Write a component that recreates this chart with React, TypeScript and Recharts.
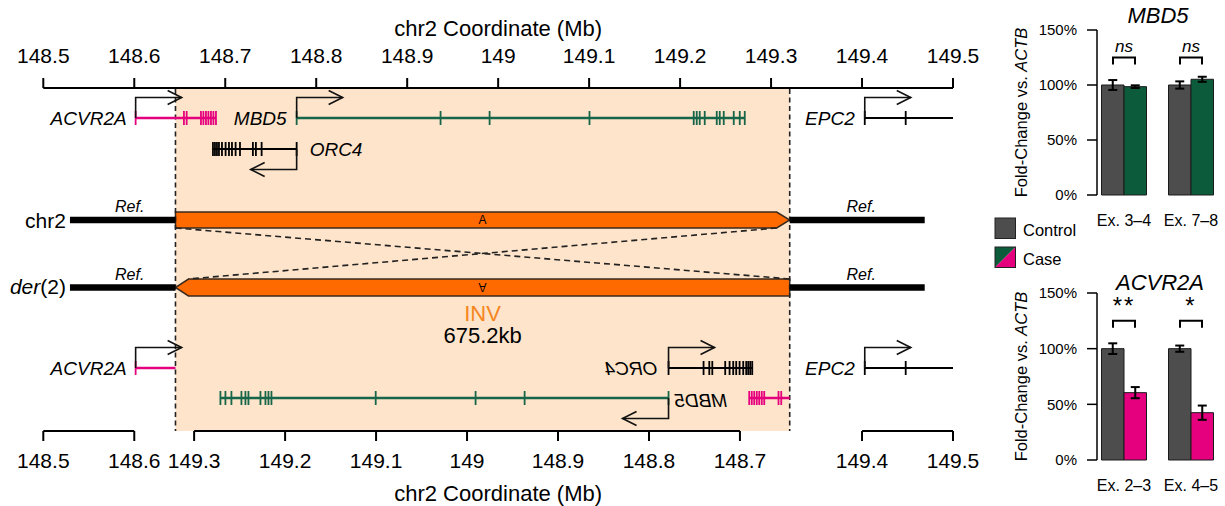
import React from "react";
import {
  ComposedChart,
  XAxis,
  YAxis,
  Scatter,
  ReferenceLine,
  ReferenceArea,
  ReferenceDot,
  BarChart,
  Bar,
  ErrorBar,
} from "recharts";

const FONT = "'Liberation Sans', Arial, Helvetica, sans-serif";
const MAGENTA = "#e5007e";
const GREEN = "#17664a";
const GREEN_BAR = "#0c5c3c";
const GRAY = "#4d4d4d";
const ORANGE = "#ff6a00";
const SHADE = "#fde4ca";

// chr2 inversion breakpoints (Mb)
const invStart = 148.6453;
const invEnd = 149.3205;
const chrShown = [148.5293, 149.4689];

const topTicks = [148.5, 148.6, 148.7, 148.8, 148.9, 149.0, 149.1, 149.2, 149.3, 149.4, 149.5];
const bottomTickLabels = [148.5, 148.6, 149.3, 149.2, 149.1, 149.0, 148.9, 148.8, 148.7, 149.4, 149.5];
const bottomAxisRuns = [
  [148.5, 148.6],
  [149.3, 148.7],
  [149.4, 149.5],
];

// genes on the reference chr2
const acvr2aSpan = [148.6015, 148.6898];
const acvr2aExons = [148.6015, 148.6546, 148.6576, 148.6733, 148.676, 148.6788, 148.6815, 148.6843, 148.687, 148.6898];
const mbd5Span = [148.7785, 149.2711];
const mbd5Exons = [148.7785, 148.9367, 148.9906, 149.1004, 149.215, 149.2183, 149.2216, 149.2271, 149.2403, 149.2436, 149.248, 149.259, 149.2656, 149.2711];
const orc4Span = [148.6865, 148.7785];
const orc4Exons = [148.6865, 148.6887, 148.6909, 148.6931, 148.6964, 148.7004, 148.7041, 148.7074, 148.7114, 148.7162, 148.7304, 148.7337, 148.74, 148.7785];
const epc2Span = [149.403, 149.5];
const epc2Exons = [149.403, 149.448];

// qPCR expression (% of control, vs ACTB)
const mbd5Amplicons = ["Ex. 3–4", "Ex. 7–8"];
const mbd5Control = [100, 100];
const mbd5ControlErr = [4.5, 3.3];
const mbd5Case = [98.5, 105.2];
const mbd5CaseErr = [1.2, 2.3];
const mbd5Sig = ["ns", "ns"];

const acvr2aAmplicons = ["Ex. 2–3", "Ex. 4–5"];
const acvr2aControl = [100, 100];
const acvr2aControlErr = [4.8, 2.8];
const acvr2aCase = [60.5, 42.5];
const acvr2aCaseErr = [5, 6.4];
const acvr2aSig = ["**", "*"];

// position on der(2): the inverted segment is mirrored
const derPos = (p: number) => (p > invStart && p < invEnd ? invStart + invEnd - p : p);
const fmt = (v: number) => String(Math.round(v * 10) / 10);

// track rows (px)
const ROW = { gene: 118, gene2: 149, chr: 220, der: 287.5, derGene: 368, derGene2: 398 };

const AX = { xAxisId: "mb", yAxisId: "row" } as const;

const seg = (key: string, x1: number, x2: number, y1: number, y2: number, stroke: string, w: number, dash?: string) => (
  <ReferenceLine
    key={key}
    {...AX}
    segment={[{ x: x1, y: y1 }, { x: x2, y: y2 }]}
    stroke={stroke}
    strokeWidth={w}
    strokeDasharray={dash}
    ifOverflow="visible"
  />
);

const exonTick = (color: string) => (p: any) => (
  <line x1={p.cx} x2={p.cx} y1={p.cy - 7} y2={p.cy + 7} stroke={color} strokeWidth={1.8} />
);

const exons = (key: string, xs: number[], y: number, color: string) => (
  <Scatter
    key={key}
    {...AX}
    data={xs.map((x) => ({ x, y }))}
    shape={exonTick(color)}
    isAnimationActive={false}
  />
);

const bentArrow = (dir: number) => (p: any) => {
  const { cx, cy } = p;
  const yb = cy - dir * 20.5;
  const xe = cx + dir * 46;
  return (
    <g fill="none" stroke="#111" strokeWidth={1.6}>
      <path d={`M${cx},${cy} V${yb} H${xe}`} />
      <path d={`M${xe - dir * 14},${yb - 7} L${xe},${yb} L${xe - dir * 14},${yb + 7}`} />
    </g>
  );
};

const arrow = (key: string, x: number, y: number, dir: number) => (
  <ReferenceDot key={key} {...AX} x={x} y={y} r={0} ifOverflow="visible" shape={bentArrow(dir)} />
);

type TOpts = {
  dx?: number;
  dy?: number;
  size?: number;
  anchor?: "start" | "middle" | "end";
  italic?: boolean;
  color?: string;
  mirror?: boolean;
  flip?: boolean;
};

const text = (key: string, x: number, y: number, content: React.ReactNode, o: TOpts = {}) => (
  <ReferenceDot
    key={key}
    {...AX}
    x={x}
    y={y}
    r={0}
    ifOverflow="visible"
    shape={(p: any) => {
      const tx = p.cx + (o.dx || 0);
      const ty = p.cy + (o.dy || 0);
      let transform: string | undefined;
      if (o.mirror) transform = `translate(${tx},${ty}) scale(-1,1)`;
      if (o.flip) transform = `translate(${tx},${ty}) rotate(180)`;
      return (
        <text
          x={transform ? 0 : tx}
          y={transform ? (o.flip ? (o.size || 16) * 0.36 : 0) : ty}
          transform={transform}
          textAnchor={o.anchor || "middle"}
          fontSize={o.size || 16}
          fontStyle={o.italic ? "italic" : "normal"}
          fill={o.color || "#000"}
        >
          {content}
        </text>
      );
    }}
  />
);

const chrBox = (point: "right" | "left") => (p: any) => {
  const { x, y, width: w, height: h } = p;
  const c = 13;
  const pts =
    point === "right"
      ? `${x},${y} ${x + w - c},${y} ${x + w},${y + h / 2} ${x + w - c},${y + h} ${x},${y + h}`
      : `${x + c},${y} ${x + w},${y} ${x + w},${y + h} ${x + c},${y + h} ${x},${y + h / 2}`;
  return <polygon points={pts} fill={ORANGE} stroke="#3a2a1e" strokeWidth={1.5} />;
};

function GenomePanel() {
  const chev = 13 / 910;
  const mid = (invStart + invEnd) / 2;
  const sizeKb = ((invEnd - invStart) * 1000).toFixed(1);
  const mirrorSpan = (s: number[]) => [derPos(s[1]), derPos(s[0])];
  const acvInside = acvr2aExons.filter((e) => e > invStart).map(derPos);
  const geneFont = { size: 19, italic: true, dy: 6.7 };

  return (
    <ComposedChart width={980} height={506} margin={{ top: 0, right: 27, bottom: 0, left: 43.3 }}>
      <XAxis
        xAxisId="mb"
        orientation="top"
        type="number"
        dataKey="x"
        domain={[148.5, 149.5]}
        ticks={topTicks}
        interval={0}
        height={88}
        tickSize={10}
        tickMargin={15}
        tickFormatter={fmt}
        tick={{ fontSize: 21, fill: "#000" }}
        axisLine={{ stroke: "#000", strokeWidth: 2 }}
        tickLine={{ stroke: "#000", strokeWidth: 2 }}
        allowDataOverflow
        label={{ value: "chr2 Coordinate (Mb)", position: "insideTop", offset: 20, fontSize: 22, fill: "#000" }}
      />
      <XAxis
        xAxisId="der"
        orientation="bottom"
        type="number"
        dataKey="x"
        domain={[148.5, 149.5]}
        ticks={bottomTickLabels.map(derPos)}
        interval={0}
        height={75}
        tickSize={10}
        tickMargin={12}
        tickFormatter={(v: number) => fmt(derPos(v))}
        tick={{ fontSize: 21, fill: "#000" }}
        axisLine={false}
        tickLine={{ stroke: "#000", strokeWidth: 2 }}
        allowDataOverflow
        label={{ value: "chr2 Coordinate (Mb)", position: "insideBottom", offset: 5, fontSize: 22, fill: "#000" }}
      />
      <YAxis yAxisId="row" type="number" dataKey="y" domain={[88, 431]} reversed hide allowDataOverflow />

      <ReferenceArea {...AX} x1={invStart} x2={invEnd} y1={89} y2={431} fill={SHADE} fillOpacity={1} stroke="none" ifOverflow="visible" />
      {seg("vl", invStart, invStart, 89, 431, "#222", 1.6, "5 3.5")}
      {seg("vr", invEnd, invEnd, 89, 431, "#222", 1.6, "5 3.5")}

      {bottomAxisRuns.map((r, i) => seg(`ax${i}`, derPos(r[0]), derPos(r[1]), 431, 431, "#000", 2))}

      {/* reference chr2 genes */}
      {seg("g1", acvr2aSpan[0], acvr2aSpan[1], ROW.gene, ROW.gene, MAGENTA, 2.5)}
      {exons("e1", acvr2aExons, ROW.gene, MAGENTA)}
      {arrow("a1", acvr2aSpan[0], ROW.gene, 1)}
      {text("t1", acvr2aSpan[0], ROW.gene, "ACVR2A", { ...geneFont, dx: -9, anchor: "end" })}

      {seg("g2", mbd5Span[0], mbd5Span[1], ROW.gene, ROW.gene, GREEN, 2.5)}
      {exons("e2", mbd5Exons, ROW.gene, GREEN)}
      {arrow("a2", mbd5Span[0], ROW.gene, 1)}
      {text("t2", mbd5Span[0], ROW.gene, "MBD5", { ...geneFont, dx: -10, anchor: "end" })}

      {seg("g3", orc4Span[0], orc4Span[1], ROW.gene2, ROW.gene2, "#000", 2)}
      {exons("e3", orc4Exons, ROW.gene2, "#000")}
      {arrow("a3", orc4Span[1], ROW.gene2, -1)}
      {text("t3", orc4Span[1], ROW.gene2, "ORC4", { ...geneFont, dx: 13, anchor: "start" })}

      {seg("g4", epc2Span[0], epc2Span[1], ROW.gene, ROW.gene, "#000", 2)}
      {exons("e4", epc2Exons, ROW.gene, "#000")}
      {arrow("a4", epc2Span[0], ROW.gene, 1)}
      {text("t4", epc2Span[0], ROW.gene, "EPC2", { ...geneFont, dx: -10, anchor: "end" })}

      {/* chromosomes */}
      {seg("c1", chrShown[0], invStart, ROW.chr, ROW.chr, "#000", 6.5)}
      {seg("c2", invEnd, chrShown[1], ROW.chr, ROW.chr, "#000", 6.5)}
      {seg("d1", chrShown[0], invStart, ROW.der, ROW.der, "#000", 6.5)}
      {seg("d2", invEnd, chrShown[1], ROW.der, ROW.der, "#000", 6.5)}
      {seg("x1", invStart, invEnd, ROW.chr + 8, ROW.der - 8.5, "#222", 1.6, "6 4")}
      {seg("x2", invEnd - chev, invStart + chev, ROW.chr + 8, ROW.der - 8.5, "#222", 1.6, "6 4")}
      <ReferenceArea {...AX} x1={invStart} x2={invEnd} y1={ROW.chr - 8} y2={ROW.chr + 8} ifOverflow="visible" shape={chrBox("right")} />
      <ReferenceArea {...AX} x1={invStart} x2={invEnd} y1={ROW.der - 8.5} y2={ROW.der + 8.5} ifOverflow="visible" shape={chrBox("left")} />
      {text("A1", mid, ROW.chr, "A", { size: 12, dy: 4.3 })}
      {text("A2", mid, ROW.der, "A", { size: 12, flip: true })}
      {text("chr", chrShown[0], ROW.chr, "chr2", { size: 21, anchor: "end", dx: -4, dy: 7.5 })}
      {text(
        "der",
        chrShown[0],
        ROW.der,
        <>
          <tspan fontStyle="italic">der</tspan>(2)
        </>,
        { size: 21, anchor: "end", dx: -4, dy: 6.5 }
      )}
      {text("r1", (chrShown[0] + invStart) / 2, ROW.chr, "Ref.", { size: 16, italic: true, dx: 7, dy: -8 })}
      {text("r2", (invEnd + chrShown[1]) / 2, ROW.chr, "Ref.", { size: 16, italic: true, dx: 4, dy: -8 })}
      {text("r3", (chrShown[0] + invStart) / 2, ROW.der, "Ref.", { size: 16, italic: true, dx: 7, dy: -8 })}
      {text("r4", (invEnd + chrShown[1]) / 2, ROW.der, "Ref.", { size: 16, italic: true, dx: 4, dy: -8 })}
      {text("inv", mid, 321, "INV", { size: 22, color: "#f7861e" })}
      {text("kb", mid, 343, `${sizeKb}kb`, { size: 22 })}

      {/* der(2) genes */}
      {seg("h1", acvr2aSpan[0], invStart, ROW.derGene, ROW.derGene, MAGENTA, 2.5)}
      {exons("f1", [acvr2aExons[0]], ROW.derGene, MAGENTA)}
      {arrow("b1", acvr2aSpan[0], ROW.derGene, 1)}
      {text("u1", acvr2aSpan[0], ROW.derGene, "ACVR2A", { ...geneFont, dx: -9, anchor: "end" })}
      {seg("h1b", derPos(acvr2aSpan[1]), invEnd, ROW.derGene2, ROW.derGene2, MAGENTA, 2.5)}
      {exons("f1b", acvInside, ROW.derGene2, MAGENTA)}

      {seg("h3", mirrorSpan(orc4Span)[0], mirrorSpan(orc4Span)[1], ROW.derGene, ROW.derGene, "#000", 2)}
      {exons("f3", orc4Exons.map(derPos), ROW.derGene, "#000")}
      {arrow("b3", derPos(orc4Span[1]), ROW.derGene, 1)}
      {text("u3", derPos(orc4Span[1]), ROW.derGene, "ORC4", { ...geneFont, dx: -11, anchor: "start", mirror: true })}

      {seg("h2", mirrorSpan(mbd5Span)[0], mirrorSpan(mbd5Span)[1], ROW.derGene2, ROW.derGene2, GREEN, 2.5)}
      {exons("f2", mbd5Exons.map(derPos), ROW.derGene2, GREEN)}
      {arrow("b2", derPos(mbd5Span[0]), ROW.derGene2, -1)}
      {text("u2", derPos(mbd5Span[0]), ROW.derGene2, "MBD5", { ...geneFont, dx: 6, dy: 8.7, anchor: "end", mirror: true })}

      {seg("h4", epc2Span[0], epc2Span[1], ROW.derGene, ROW.derGene, "#000", 2)}
      {exons("f4", epc2Exons, ROW.derGene, "#000")}
      {arrow("b4", epc2Span[0], ROW.derGene, 1)}
      {text("u4", epc2Span[0], ROW.derGene, "EPC2", { ...geneFont, dx: -10, anchor: "end" })}
    </ComposedChart>
  );
}

const bracket = (p: any) => (
  <path
    d={`M${p.cx - 11},${p.cy + 7} V${p.cy} H${p.cx + 11} V${p.cy + 7}`}
    fill="none"
    stroke="#000"
    strokeWidth={2}
  />
);

const sigText = (label: string) => (p: any) => {
  const star = label.includes("*");
  const fs = star ? 24 : 17;
  return (
    <text
      x={p.cx}
      y={p.cy + (star ? 0.57 : 0.27) * fs}
      textAnchor="middle"
      fontSize={fs}
      fontStyle={star ? "normal" : "italic"}
      letterSpacing={star ? 2 : 0}
      fill="#000"
    >
      {label}
    </text>
  );
};

const yLabel = (props: any) => {
  const vb = props.viewBox || { x: 0, y: 30, width: 117, height: 165 };
  const x = vb.x + 41;
  const y = vb.y + vb.height / 2;
  return (
    <text transform={`translate(${x},${y}) rotate(-90)`} textAnchor="middle" dominantBaseline="central" fontSize={16.5} fill="#000">
      Fold-Change vs. <tspan fontStyle="italic">ACTB</tspan>
    </text>
  );
};

type ExprProps = {
  amplicons: string[];
  control: number[];
  controlErr: number[];
  caseVals: number[];
  caseErr: number[];
  sig: string[];
  sigY: number;
  caseColor: string;
  height: number;
  top: number;
  plotHeight: number;
};

function ExpressionChart(p: ExprProps) {
  const data = p.amplicons.map((a, i) => ({
    amplicon: a,
    control: p.control[i],
    controlErr: p.controlErr[i],
    case: p.caseVals[i],
    caseErr: p.caseErr[i],
  }));
  return (
    <BarChart
      width={245}
      height={p.height}
      data={data}
      margin={{ top: p.top, right: 0.5, bottom: 0, left: 0 }}
      barGap={0}
      barSize={22.5}
    >
      <XAxis
        dataKey="amplicon"
        tickLine={false}
        axisLine={false}
        tickSize={0}
        tickMargin={20}
        height={p.height - p.top - p.plotHeight}
        padding={{ left: -6.5, right: 0 }}
        interval={0}
        tick={{ fontSize: 16, fill: "#000" }}
      />
      <YAxis
        domain={[0, 150]}
        ticks={[0, 50, 100, 150]}
        tickFormatter={(v: number) => `${v}%`}
        width={117}
        tickSize={10}
        tickMargin={10}
        axisLine={{ stroke: "#000", strokeWidth: 1.5 }}
        tickLine={{ stroke: "#000", strokeWidth: 1.5 }}
        tick={{ fontSize: 15, fill: "#000" }}
        label={{ content: yLabel }}
      />
      <Bar dataKey="control" fill={GRAY} stroke="#1a1a1a" strokeWidth={1} isAnimationActive={false}>
        <ErrorBar dataKey="controlErr" width={4.5} stroke="#000" strokeWidth={2} direction="y" />
      </Bar>
      <Bar dataKey="case" fill={p.caseColor} stroke="#1a1a1a" strokeWidth={1} isAnimationActive={false}>
        <ErrorBar dataKey="caseErr" width={4.5} stroke="#000" strokeWidth={2} direction="y" />
      </Bar>
      {p.amplicons.map((a) => (
        <ReferenceDot key={`br${a}`} x={a} y={125} r={0} ifOverflow="visible" shape={bracket} />
      ))}
      {p.amplicons.map((a, i) => (
        <ReferenceDot key={`sg${a}`} x={a} y={p.sigY} r={0} ifOverflow="visible" shape={sigText(p.sig[i])} />
      ))}
    </BarChart>
  );
}

export default function App() {
  return (
    <div
      style={{
        position: "absolute",
        left: 0,
        top: 0,
        width: 1225,
        height: 506,
        background: "#fff",
        fontFamily: FONT,
        overflow: "hidden",
      }}
    >
      <div style={{ position: "absolute", left: 0, top: 0 }}>
        <GenomePanel />
      </div>
      <div style={{ position: "absolute", left: 980, top: 0 }}>
        <ExpressionChart
          amplicons={mbd5Amplicons}
          control={mbd5Control}
          controlErr={mbd5ControlErr}
          caseVals={mbd5Case}
          caseErr={mbd5CaseErr}
          sig={mbd5Sig}
          sigY={134.5}
          caseColor={GREEN_BAR}
          height={250}
          top={30}
          plotHeight={165}
        />
      </div>
      <div style={{ position: "absolute", left: 980, top: 250 }}>
        <ExpressionChart
          amplicons={acvr2aAmplicons}
          control={acvr2aControl}
          controlErr={acvr2aControlErr}
          caseVals={acvr2aCase}
          caseErr={acvr2aCaseErr}
          sig={acvr2aSig}
          sigY={143.8}
          caseColor={MAGENTA}
          height={256}
          top={43}
          plotHeight={167}
        />
      </div>
      <svg
        width={1225}
        height={506}
        style={{ position: "absolute", left: 0, top: 0, pointerEvents: "none", fontFamily: FONT }}
      >
        <text x={1158} y={23} textAnchor="middle" fontSize={22} fontStyle="italic">
          MBD5
        </text>
        <text x={1160} y={290} textAnchor="middle" fontSize={22} fontStyle="italic">
          ACVR2A
        </text>
        <rect x={995} y={218} width={20.5} height={20.5} fill={GRAY} stroke="#222" strokeWidth={1} />
        <text x={1023} y={236} fontSize={16.5}>
          Control
        </text>
        <polygon points="995,247 1015.5,247 995,267.5" fill={GREEN_BAR} />
        <polygon points="1015.5,247 1015.5,267.5 995,267.5" fill={MAGENTA} />
        <rect x={995} y={247} width={20.5} height={20.5} fill="none" stroke="#222" strokeWidth={1} />
        <text x={1023} y={265} fontSize={16.5}>
          Case
        </text>
      </svg>
    </div>
  );
}
